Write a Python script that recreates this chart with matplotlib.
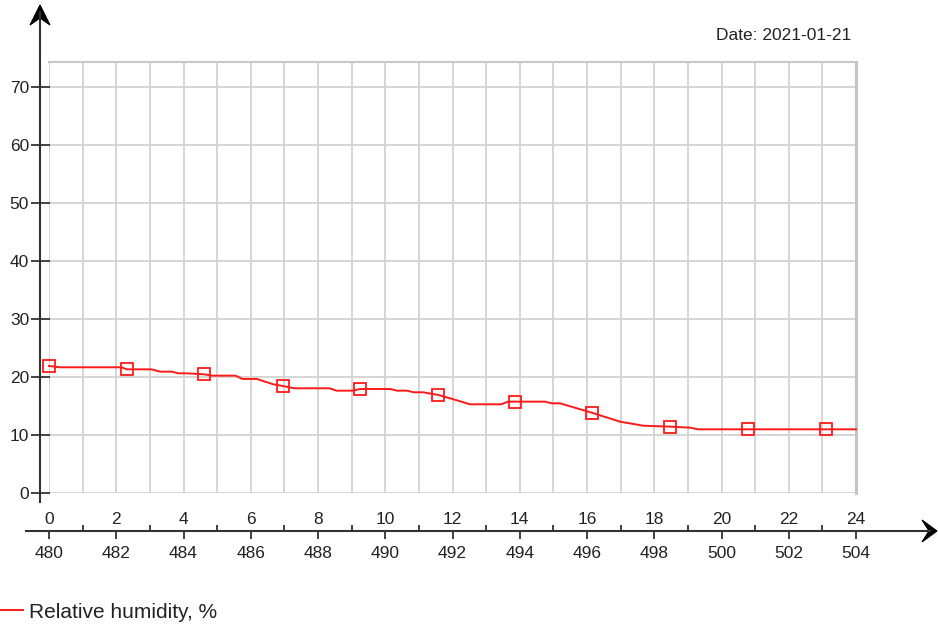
import matplotlib
matplotlib.use("Agg")
import matplotlib.pyplot as plt
import matplotlib.transforms as mtransforms
from matplotlib.patches import Polygon
from matplotlib.lines import Line2D

# ---- data ----
line_hours = [0, 0.33, 2.16, 2.31, 3.05, 3.3, 3.65, 3.85, 4.09, 4.62, 4.85, 5.55, 5.75, 6.18,
              6.67, 6.95, 7.3, 8.35, 8.55, 9.05, 9.25, 10.15, 10.35, 10.65, 10.85, 11.13,
              11.58, 12.03, 12.52, 13.45, 13.65, 14.75, 14.95, 15.2, 16.14, 16.98, 17.68,
              18.47, 19.07, 19.3, 24]
line_values = [21.9, 21.67, 21.67, 21.32, 21.32, 20.92, 20.92, 20.63, 20.63, 20.46, 20.23,
               20.23, 19.66, 19.66, 18.74, 18.45, 18.05, 18.05, 17.64, 17.64, 17.93, 17.93,
               17.64, 17.64, 17.36, 17.36, 16.9, 16.15, 15.29, 15.29, 15.75, 15.75, 15.46,
               15.46, 13.85, 12.3, 11.6, 11.44, 11.26, 10.98, 10.98]
marker_hours = [0, 2.31, 4.62, 6.95, 9.25, 11.58, 13.86, 16.14, 18.47, 20.8, 23.1]
marker_values = [21.9, 21.32, 20.46, 18.45, 17.93, 16.9, 15.75, 13.85, 11.44, 10.98, 10.98]
hour_ticks = [0, 2, 4, 6, 8, 10, 12, 14, 16, 18, 20, 22, 24]
cum_labels = ["480", "482", "484", "486", "488", "490", "492", "494", "496", "498", "500", "502", "504"]
minor_ticks = [1, 3, 5, 7, 9, 11, 13, 15, 17, 19, 21, 23]
y_ticks = [0, 10, 20, 30, 40, 50, 60, 70]
series_label = "Relative humidity, %"
date_text = "Date: 2021-01-21"

plt.rcParams['font.family'] = ['Liberation Sans', 'DejaVu Sans']

W, H = 938, 627
PX = 0.72  # points per pixel at dpi 100
fig = plt.figure(figsize=(W / 100, H / 100), dpi=100)
L, R, T, B = 49, 856, 62, 493
ax = fig.add_axes([L / W, (H - B) / H, (R - L) / W, (B - T) / H])
ax.set_xlim(0, 24)
ax.set_ylim(0, 74.3)

grid_c = '#d2d2d2'
txt_c = '#222222'
axis_c = '#333333'

ax.set_xticks(hour_ticks)
ax.set_xticklabels(cum_labels)
ax.set_xticks(minor_ticks, minor=True)
ax.set_yticks(y_ticks)
ax.grid(True, which='both', axis='x', color=grid_c, lw=1.3)
ax.grid(True, which='major', axis='y', color=grid_c, lw=1.3)
ax.set_axisbelow(True)

ax.spines['top'].set_color('#c8c8c8')
ax.spines['top'].set_linewidth(1.5)
ax.spines['right'].set_color('#c4c4c4')
ax.spines['right'].set_linewidth(2.2)
ax.spines['left'].set_position(('outward', 9 * PX))
ax.spines['left'].set_visible(False)
ax.spines['bottom'].set_position(('outward', 38 * PX))
ax.spines['bottom'].set_visible(False)

ax.tick_params(axis='y', which='major', direction='inout', length=19 * PX, width=1.3,
               color=axis_c, labelsize=12.5, labelcolor=txt_c, pad=1)
ax.tick_params(axis='x', which='major', direction='out', length=8 * PX, width=1.3,
               color=axis_c, labelsize=12.5, labelcolor=txt_c, pad=5)
ax.tick_params(axis='x', which='minor', direction='in', length=6 * PX, width=1.3,
               color=axis_c)

trans = mtransforms.blended_transform_factory(ax.transData, mtransforms.IdentityTransform())
for h in hour_ticks:
    ax.text(h, H - 520, str(h), transform=trans, ha='center', va='center',
            fontsize=12.5, color=txt_c, clip_on=False)

# axis lines with arrowheads (display pixels)
idt = mtransforms.IdentityTransform()
fig.add_artist(Line2D([40, 40], [H - 502, H - 12], transform=idt, color=axis_c, lw=1.5))
fig.add_artist(Line2D([26, 930], [H - 531, H - 531], transform=idt, color=axis_c, lw=1.5))
fig.add_artist(Polygon([(40, H - 5), (30, H - 25), (40, H - 18), (50, H - 25)],
                       closed=True, transform=idt, facecolor='black', edgecolor='black', lw=0.8))
fig.add_artist(Polygon([(937, H - 531), (922, H - 520), (929, H - 531), (922, H - 542)],
                       closed=True, transform=idt, facecolor='black', edgecolor='black', lw=0.8))

ax.plot(line_hours, line_values, color='#ff1a1a', lw=1.4, label=series_label,
        clip_on=False, zorder=3)
ax.plot(marker_hours, marker_values, linestyle='none', marker='s', markersize=8.3,
        markerfacecolor='none', markeredgecolor='#ff1a1a', markeredgewidth=1.3,
        clip_on=False, zorder=4)

fig.text(851 / W, (H - 35) / H, date_text, ha='right', va='center', fontsize=12.5,
         color=txt_c)

fig.legend(loc='center left', bbox_to_anchor=(0, 15 / H), frameon=False,
           fontsize=15, handlelength=1.1, handletextpad=0.3, borderpad=0,
           borderaxespad=0, labelcolor=txt_c)

fig.savefig('out.png', dpi=100)
